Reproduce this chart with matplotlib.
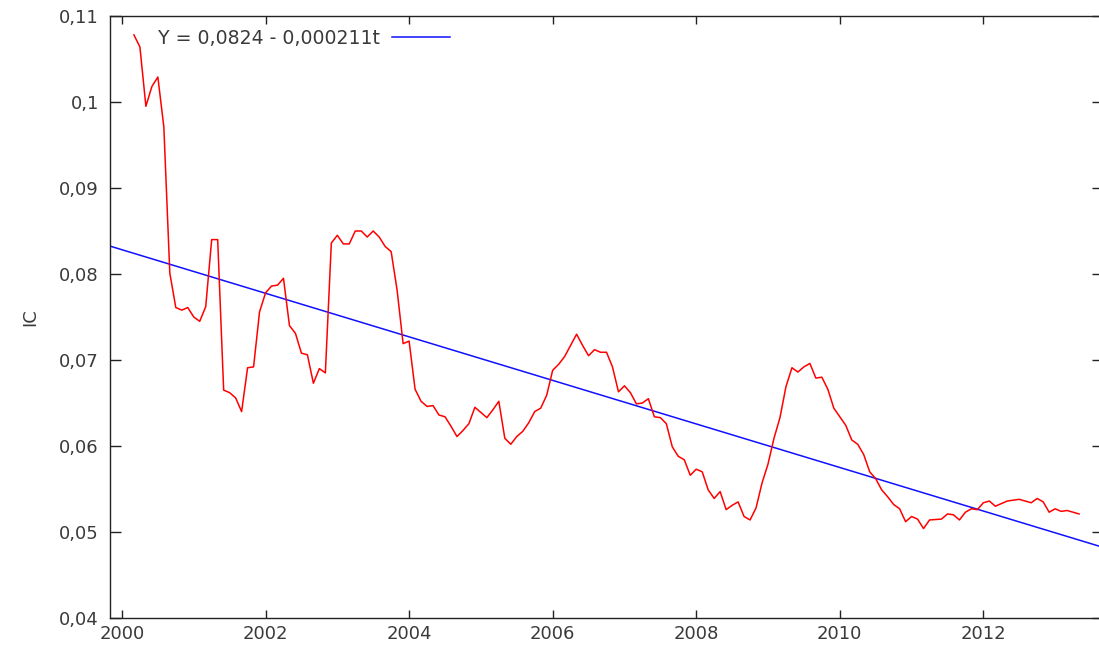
import matplotlib
matplotlib.use("Agg")
import matplotlib.pyplot as plt
import numpy as np

# ---- data (monthly, month index 0 = 2000:03) ----
start_year = 2000
start_month = 3
month_index = [0, 1, 2, 3, 4, 5, 6, 7, 8, 9, 10, 11, 12, 13, 14, 15, 16, 17, 18, 19,
               20, 21, 22, 23, 24, 25, 26, 27, 28, 29, 30, 31, 32, 33, 34, 35, 36, 37, 38, 39,
               40, 41, 42, 43, 44, 45, 46, 47, 48, 49, 50, 51, 52, 53, 54, 55, 56, 57, 58, 59,
               60, 61, 62, 63, 64, 65, 66, 67, 68, 69, 70, 71, 72, 73, 74, 75, 76, 77, 78, 79,
               80, 81, 82, 83, 84, 85, 86, 87, 88, 89, 90, 91, 92, 93, 94, 95, 96, 97, 98, 99,
               100, 101, 102, 103, 104, 105, 106, 107, 108, 109, 110, 111, 112, 113, 114, 115,
               116, 117, 118, 119, 120, 121, 122, 123, 124, 125, 126, 127, 128, 129, 130, 131,
               132, 133, 135, 136, 137, 138, 139, 140, 141, 142, 143, 144, 145, 146, 148, 150,
               151, 152, 153, 154, 155, 156, 158]
ic_values = [0.1078, 0.1064, 0.0995, 0.1018, 0.1029, 0.0971, 0.0801, 0.0761, 0.0758, 0.0761,
             0.0750, 0.0745, 0.0762, 0.0840, 0.0840, 0.0665, 0.0662, 0.0656, 0.0640, 0.0691,
             0.0692, 0.0756, 0.0778, 0.0786, 0.0787, 0.0795, 0.0740, 0.0731, 0.0708, 0.0706,
             0.0673, 0.0690, 0.0685, 0.0836, 0.0845, 0.0835, 0.0835, 0.0850, 0.0850, 0.0843,
             0.0850, 0.0843, 0.0832, 0.0826, 0.0781, 0.0719, 0.0722, 0.0666, 0.0652, 0.0646,
             0.0647, 0.0636, 0.0634, 0.0623, 0.0611, 0.0618, 0.0626, 0.0645, 0.0639, 0.0633,
             0.0642, 0.0652, 0.0609, 0.0602, 0.0611, 0.0617, 0.0627, 0.0640, 0.0644, 0.0659,
             0.0688, 0.0695, 0.0704, 0.0717, 0.0730, 0.0717, 0.0705, 0.0712, 0.0709, 0.0709,
             0.0692, 0.0663, 0.0670, 0.0662, 0.0649, 0.0650, 0.0655, 0.0634, 0.0633, 0.0626,
             0.0599, 0.0588, 0.0584, 0.0566, 0.0573, 0.0570, 0.0549, 0.0539, 0.0547, 0.0526,
             0.0531, 0.0535, 0.0518, 0.0514, 0.0528, 0.0557, 0.0579, 0.0609, 0.0633, 0.0669,
             0.0691, 0.0686, 0.0692, 0.0696, 0.0679, 0.0680, 0.0666, 0.0644, 0.0634, 0.0624,
             0.0607, 0.0602, 0.0590, 0.0570, 0.0562, 0.0549, 0.0541, 0.0532, 0.0527, 0.0512,
             0.0518, 0.0515, 0.0504, 0.0514, 0.0515, 0.0521, 0.0520, 0.0514, 0.0523, 0.0527,
             0.0526, 0.0534, 0.0536, 0.0530, 0.0533, 0.0536, 0.0538, 0.0534, 0.0539, 0.0535,
             0.0523, 0.0527, 0.0524, 0.0525, 0.0521]

# fitted trend: Y = a - b t  (t in months)
trend_intercept = 0.0824
trend_slope = -0.000211
trend_label = "Y = 0,0824 - 0,000211t"

x_range = (1999.8333, 2013.6667)
y_range = (0.04, 0.11)
x_ticks = [2000, 2002, 2004, 2006, 2008, 2010, 2012]
y_ticks = [0.04, 0.05, 0.06, 0.07, 0.08, 0.09, 0.10, 0.11]
y_tick_labels = ["0,04", "0,05", "0,06", "0,07", "0,08", "0,09", "0,1", "0,11"]
y_label = "IC"

# ---- figure ----
W, H = 1099, 650
fig = plt.figure(figsize=(W / 100, H / 100), dpi=100)
plt.rcParams['font.family'] = ['DejaVu Sans']
left_px, right_px, top_px, bottom_px = 110, 1103, 16, 618
ax = fig.add_axes([left_px / W, 1 - bottom_px / H,
                   (right_px - left_px) / W, (bottom_px - top_px) / H])

x = start_year + (start_month - 1 + np.array(month_index)) / 12.0
ax.plot(x, ic_values, color="#ff0000", lw=1.1, zorder=3)

xt = np.linspace(x_range[0], x_range[1], 50)
t = (xt - (start_year + (start_month - 1) / 12.0)) * 12.0
ax.plot(xt, trend_intercept + trend_slope * t, color="#1010ff", lw=1.1,
        label=trend_label, zorder=2)

ax.set_xlim(*x_range)
ax.set_ylim(*y_range)
ax.set_xticks(x_ticks)
ax.set_xticklabels([str(v) for v in x_ticks])
ax.set_yticks(y_ticks)
ax.set_yticklabels(y_tick_labels)

fs = 13
text_color = "#3a3a3a"
ax.tick_params(axis="x", direction="in", length=6, width=1.0, top=True, bottom=True,
               labelsize=fs, colors="#222222", labelcolor=text_color, pad=5)
ax.tick_params(axis="y", direction="in", length=8, width=1.0, left=True, right=True,
               labelsize=fs, colors="#222222", labelcolor=text_color, pad=8)
for s in ax.spines.values():
    s.set_color("#222222")
    s.set_linewidth(1.0)

ax.set_ylabel(y_label, fontsize=fs, color=text_color, labelpad=14)

leg = ax.legend(loc="upper left", bbox_to_anchor=((158 - left_px) / (right_px - left_px), 0.979),
                frameon=False, markerfirst=False, handlelength=3.1, handletextpad=0.62,
                borderpad=0, borderaxespad=0, fontsize=13.6)
for txt in leg.get_texts():
    txt.set_color(text_color)

fig.savefig("out.png", dpi=100, facecolor="white")
